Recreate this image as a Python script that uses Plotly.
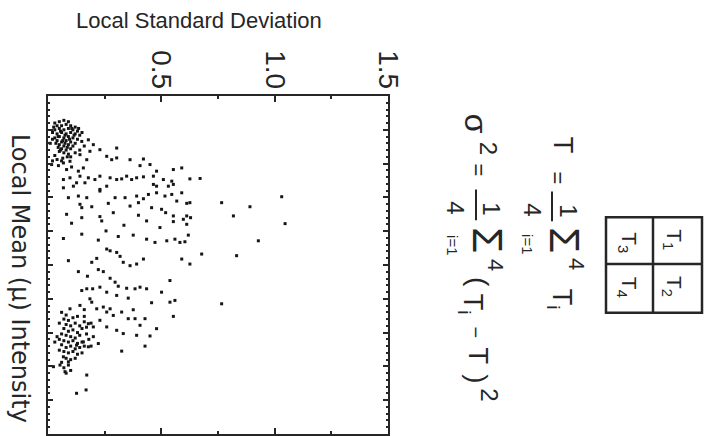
import plotly.graph_objects as go

# ---- data: local standard deviation vs. local mean intensity of 2x2 pixel blocks ----
# dense group of dark blocks
dark_std = [0.03, 0.05, 0.07, 0.09, 0.04, 0.06, 0.08, 0.10, 0.12, 0.03, 0.05, 0.07, 0.09, 0.11,
            0.13, 0.02, 0.04, 0.06, 0.08, 0.10, 0.12, 0.14, 0.03, 0.05, 0.07, 0.09, 0.11, 0.13,
            0.04, 0.06, 0.08, 0.10, 0.12, 0.05, 0.07, 0.09, 0.11, 0.06, 0.08, 0.10, 0.07, 0.09,
            0.05, 0.085, 0.065, 0.045, 0.035, 0.025, 0.055, 0.075, 0.095, 0.115, 0.105, 0.045,
            0.065, 0.085, 0.075, 0.055, 0.135, 0.15, 0.02, 0.01, 0.03, 0.02, 0.04, 0.06, 0.10,
            0.12, 0.14, 0.16]
dark_mean = [20, 19, 18, 19, 22, 22, 21, 22, 23, 25, 24, 25, 24, 25,
             26, 27, 28, 27, 28, 27, 28, 29, 31, 30, 31, 30, 31, 32,
             33, 34, 33, 34, 35, 36, 37, 36, 37, 39, 40, 39, 42, 43,
             41, 45, 46, 38, 35, 23, 26, 29, 32, 29, 24, 30,
             33, 38, 35, 40, 24, 27, 32, 35, 44, 48, 47, 48, 45,
             42, 40, 37]

# dense group of bright blocks
bright_std = [0.06, 0.08, 0.07, 0.09, 0.11, 0.13, 0.05, 0.08, 0.10, 0.12, 0.14, 0.16, 0.07, 0.09,
              0.11, 0.13, 0.15, 0.06, 0.08, 0.10, 0.12, 0.14, 0.17, 0.05, 0.07, 0.09, 0.11, 0.13,
              0.15, 0.18, 0.06, 0.08, 0.10, 0.12, 0.14, 0.16, 0.07, 0.09, 0.11, 0.13, 0.08, 0.10,
              0.06, 0.09, 0.07, 0.10, 0.08, 0.04, 0.03, 0.05, 0.12, 0.15, 0.19, 0.20, 0.17, 0.19,
              0.16, 0.16]
bright_mean = [160, 162, 165, 166, 164, 163, 168, 169, 170, 168, 170, 167, 172, 174,
               173, 175, 172, 176, 177, 178, 179, 177, 176, 180, 181, 182, 181, 183,
               182, 180, 184, 186, 185, 187, 186, 185, 189, 190, 189, 191, 194, 195,
               197, 199, 201, 203, 205, 178, 182, 188, 194, 190, 185, 178, 171, 168,
               158, 163]

# scattered blocks between and around the two groups
spread_std = [0.149, 0.178, 0.200, 0.229, 0.303, 0.259, 0.281, 0.303, 0.171, 0.097, 0.068, 0.141,
              0.185, 0.362, 0.421, 0.016, 0.046, 0.082, 0.104, 0.134, 0.156, 0.406, 0.450, 0.479,
              0.553, 0.590, 0.465, 0.421, 0.369, 0.347, 0.325, 0.274, 0.229, 0.207, 0.178, 0.141,
              0.097, 0.068, 0.126, 0.112, 0.163, 0.229, 0.259, 0.303, 0.391, 0.509, 0.546, 0.626,
              0.671, 0.465, 0.479, 0.531, 0.553, 0.068, 0.090, 0.134, 0.171, 0.229, 0.296, 0.340,
              0.391, 0.421, 0.443, 0.479, 0.516, 0.546, 0.590, 0.568, 0.612, 0.626, 0.141, 0.149,
              0.193, 0.266, 0.362, 0.399, 0.457, 0.501, 0.519, 0.553, 0.597, 0.612, 0.629, 0.766,
              0.891, 1.031, 0.818, 1.046, 0.082, 0.104, 0.149, 0.229, 0.237, 0.288, 0.335, 0.399,
              0.435, 0.494, 0.553, 0.612, 0.068, 0.149, 0.222, 0.256, 0.310, 0.376, 0.435, 0.472,
              0.524, 0.560, 0.582, 0.604, 0.619, 0.928, 0.832, 0.678, 0.590, 0.626, 0.421, 0.391,
              0.362, 0.332, 0.318, 0.303, 0.274, 0.259, 0.215, 0.193, 0.090, 0.134, 0.174, 0.222,
              0.244, 0.274, 0.296, 0.310, 0.347, 0.384, 0.406, 0.435, 0.501, 0.538, 0.538, 0.560,
              0.457, 0.766, 0.354, 0.303, 0.259, 0.229, 0.197, 0.171, 0.149, 0.185, 0.097, 0.141,
              0.193, 0.215, 0.244, 0.259, 0.274, 0.288, 0.325, 0.354, 0.376, 0.384, 0.406, 0.428,
              0.479, 0.553, 0.450, 0.391, 0.332, 0.303, 0.259, 0.229, 0.200, 0.178, 0.222, 0.178,
              0.156, 0.428, 0.325, 0.126, 0.068, 0.090, 0.075, 0.053, 0.171, 0.126, 0.168, 0.024]
spread_mean = [33.6, 32.4, 36.0, 39.7, 38.5, 44.6, 47.1, 45.8, 47.1, 48.3, 49.5, 43.4,
               40.9, 47.1, 46.6, 50.7, 51.5, 54.4, 52.5, 55.6, 53.2, 51.5, 50.7, 55.6,
               54.4, 53.2, 59.3, 59.8, 61.8, 59.3, 61.3, 60.5, 59.3, 61.8, 60.5, 59.3,
               60.5, 61.8, 64.2, 66.7, 64.2, 69.1, 66.7, 61.8, 60.5, 61.8, 63.0, 61.3,
               61.0, 65.4, 66.7, 66.7, 65.4, 67.9, 75.2, 74.0, 75.2, 70.3, 75.2, 75.2,
               74.0, 76.0, 72.8, 71.6, 74.0, 72.8, 71.6, 77.7, 79.4, 78.9, 80.1, 82.6,
               81.9, 79.4, 81.4, 78.9, 82.6, 83.8, 86.3, 88.7, 91.2, 88.7, 90.0, 78.9,
               81.9, 74.5, 88.7, 94.4, 87.5, 94.1, 90.0, 89.2, 92.4, 86.3, 95.6, 88.2,
               92.4, 97.3, 92.9, 94.9, 105.4, 102.2, 106.6, 99.8, 103.9, 102.9, 105.9, 108.3,
               107.1, 105.9, 108.3, 107.8, 102.9, 107.1, 118.1, 116.9, 120.6, 124.3, 120.6, 124.3,
               125.5, 123.0, 118.6, 115.7, 114.5, 113.2, 120.1, 123.0, 121.8, 129.9, 133.3, 128.4,
               129.9, 134.8, 137.7, 140.7, 142.2, 142.6, 141.4, 142.6, 145.1, 136.5, 152.5, 151.2,
               152.9, 153.7, 149.5, 147.5, 145.1, 141.4, 142.6, 142.6, 143.9, 150.0, 157.4, 154.9,
               152.5, 157.4, 156.1, 159.8, 157.4, 162.3, 159.8, 164.7, 158.1, 164.7, 169.6, 164.7,
               172.1, 163.0, 177.5, 177.0, 175.7, 173.3, 170.8, 165.9, 170.8, 168.4, 183.1, 185.5,
               181.9, 185.0, 188.7, 184.3, 192.9, 196.6, 203.9, 199.0, 206.4, 219.9, 217.4, 200.2]

x_ticks = [0.5, 1.0, 1.5]
x_tick_labels = ["0.5", "1.0", "1.5"]
x_title = "Local Standard Deviation"
y_title = "Local Mean (μ) Intensity"

INK = "#262626"
FONT = "Liberation Sans"
WIDE_FONT = "DejaVu Sans"

std_all = dark_std + spread_std + bright_std
mean_all = dark_mean + spread_mean + bright_mean

fig = go.Figure(go.Scatter(
    x=std_all, y=mean_all, mode="markers",
    marker=dict(symbol="square", size=3, color="#151515", line=dict(width=0)),
    hoverinfo="skip", showlegend=False,
))

# plot frame in pixels
W, H = 706, 436
L, R, T, B = 48, 388, 96, 436


def px(x):
    return (x - L) / (R - L)


def py(y):
    return (B - y) / (B - T)


fig.update_layout(
    width=W, height=H,
    margin=dict(l=L, r=W - R, t=T, b=H - B, pad=0),
    paper_bgcolor="white", plot_bgcolor="white",
    font=dict(family=FONT, color=INK),
    xaxis=dict(
        range=[0, 1.5], side="top", tickmode="array", tickvals=x_ticks, ticktext=x_tick_labels,
        tickangle=90, tickfont=dict(size=28, family=FONT, color=INK), ticklabelstandoff=-5,
        ticks="inside", ticklen=6, tickwidth=1.5, tickcolor=INK,
        minor=dict(dtick=0.25, ticks="inside", ticklen=3, tickcolor=INK),
        showline=True, linewidth=2, linecolor=INK, mirror="allticks",
        showgrid=False, zeroline=False,
    ),
    yaxis=dict(
        range=[250, 0], tickmode="linear", tick0=0, dtick=25, showticklabels=False,
        ticks="inside", ticklen=5, tickwidth=1.5, tickcolor=INK,
        minor=dict(dtick=5, ticks="inside", ticklen=2, tickcolor=INK),
        showline=True, linewidth=2, linecolor=INK, mirror="allticks",
        showgrid=False, zeroline=False,
    ),
)

ann = []


def text(x, y, s, size, angle=90, family=FONT):
    ann.append(dict(x=px(x), y=py(y), xref="paper", yref="paper", text=s, showarrow=False,
                    textangle=angle, xanchor="center", yanchor="middle",
                    font=dict(size=size, family=family, color=INK)))


# axis titles
text(199, 20, x_title, 22, angle=0)
text(20, 279, y_title, 24, family=WIDE_FONT)

# mean of the block:  T = 1/4 sum_{i=1}^{4} T_i
text(563, 145, "T", 27)
text(557, 178, "=", 22)
text(569, 211, "1", 24)
text(533, 210, "4", 24)
text(565, 241, "Σ", 42)
text(528, 245, "i=1", 15)
text(577, 265, "4", 22)
text(560, 300, "T<sub>i</sub>", 27)

# variance of the block:  sigma^2 = 1/4 sum_{i=1}^{4} (T_i - T)^2
text(476, 124, "σ", 32)
text(488, 148, "2", 24)
text(478, 170, "=", 22)
text(492, 209, "1", 24)
text(456, 208, "4", 24)
text(488, 241, "Σ", 42)
text(453, 246, "i=1", 15)
text(496, 266, "4", 22)
text(478, 283, "(", 28)
text(471, 305, "T<sub>i</sub>", 27)
text(476, 334, "−", 20)
text(478, 357, "T", 27)
text(478, 380, ")", 28)
text(490, 396, "2", 24)

# 2x2 block of pixels
text(628, 243, "T<sub>3</sub>", 21)
text(673, 240, "T<sub>1</sub>", 21)
text(628, 288, "T<sub>4</sub>", 21)
text(673, 287, "T<sub>2</sub>", 21)

fig.update_layout(annotations=ann)

shapes = []
line = dict(color=INK, width=2.5)
# fraction bars
shapes.append(dict(type="line", xref="paper", yref="paper", x0=px(552), x1=px(552),
                   y0=py(192), y1=py(222), line=dict(color=INK, width=2)))
shapes.append(dict(type="line", xref="paper", yref="paper", x0=px(476), x1=px(476),
                   y0=py(190), y1=py(221), line=dict(color=INK, width=2)))
# block outline and dividers
shapes.append(dict(type="rect", xref="paper", yref="paper", x0=px(606), x1=px(702),
                   y0=py(218), y1=py(314), line=line))
shapes.append(dict(type="line", xref="paper", yref="paper", x0=px(653), x1=px(653),
                   y0=py(218), y1=py(314), line=line))
shapes.append(dict(type="line", xref="paper", yref="paper", x0=px(606), x1=px(702),
                   y0=py(265), y1=py(265), line=line))
fig.update_layout(shapes=shapes)

fig.write_html("out.html")
